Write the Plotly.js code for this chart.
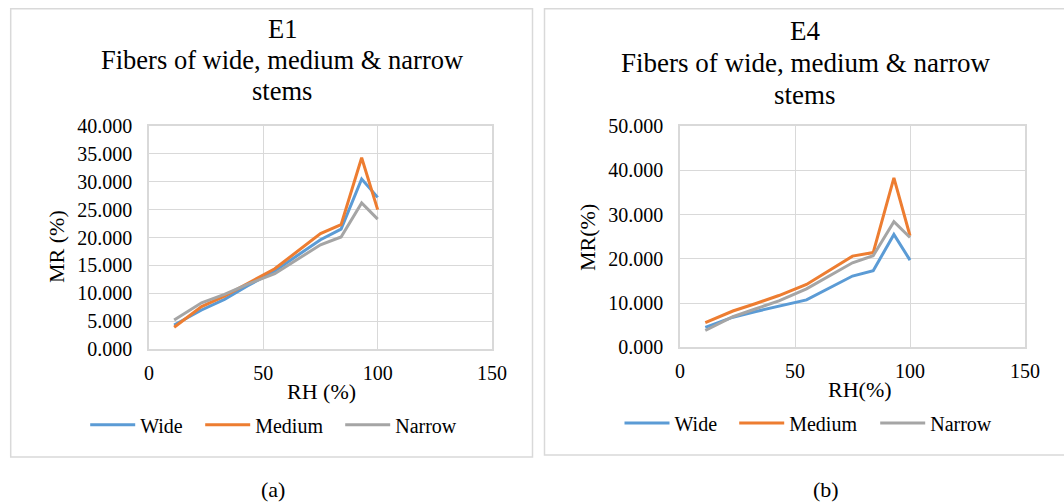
<!DOCTYPE html>
<html>
<head>
<meta charset="utf-8">
<script src="https://cdn.plot.ly/plotly-3.0.1.min.js"></script>
<style>
html, body { margin: 0; padding: 0; background: #ffffff; }
#chart { width: 1064px; height: 503px; }
</style>
</head>
<body>
<div id="chart"></div>
<script>
// ---- data ----
const rh = [11, 23, 33, 43, 55, 75, 84, 93, 100];
const seriesNames = ['Wide', 'Medium', 'Narrow'];

const e1Wide   = [4.3, 7.0, 8.9, 11.3, 14.0, 19.6, 21.5, 30.5, 27.2];
const e1Medium = [3.9, 7.6, 9.5, 11.7, 14.4, 20.7, 22.3, 34.3, 25.0];
const e1Narrow = [5.2, 8.3, 9.8, 11.6, 13.5, 18.7, 20.1, 26.2, 23.3];

const e4Wide   = [4.5, 6.8, 8.1, 9.3, 10.7, 16.1, 17.3, 25.5, 19.7];
const e4Medium = [5.6, 8.2, 9.9, 11.7, 14.2, 20.6, 21.4, 38.3, 25.2];
const e4Narrow = [3.8, 6.9, 8.7, 10.5, 13.2, 19.1, 20.7, 28.4, 24.8];

const xTickVals = [0, 50, 100, 150];
const e1YTickVals = [0, 5, 10, 15, 20, 25, 30, 35, 40];
const e4YTickVals = [0, 10, 20, 30, 40, 50];

const e1Title = ['E1', 'Fibers of wide, medium & narrow', 'stems'];
const e4Title = ['E4', 'Fibers of wide, medium & narrow', 'stems'];
const e1XTitle = 'RH (%)', e1YTitle = 'MR (%)';
const e4XTitle = 'RH(%)',  e4YTitle = 'MR(%)';
const captions = ['(a)', '(b)'];

// ---- styling ----
const W = 1064, H = 503;
const colors = ['#5B9BD5', '#ED7D31', '#A5A5A5'];
const FONT = 'Liberation Serif';
const gridColor = '#d9d9d9';
const px = x => x / W;
const py = y => (H - y) / H;
const baseFont = { family: FONT, size: 20, color: '#000000' };

// legend entry placement (pixel start of each legend line sample)
const leftLegendX = [91.7, 206.7, 346.7];
const rightLegendX = [626, 740.7, 881.7];

function mkTrace(y, i, xa, ya, leg) {
  return {
    x: rh, y: y, name: seriesNames[i], type: 'scatter', mode: 'lines',
    line: { color: colors[i], width: 3 },
    xaxis: xa, yaxis: ya, legend: leg, hoverinfo: 'x+y+name'
  };
}

const data = [
  mkTrace(e1Wide, 0, 'x', 'y', 'legend'),
  mkTrace(e1Medium, 1, 'x', 'y', 'legend2'),
  mkTrace(e1Narrow, 2, 'x', 'y', 'legend3'),
  mkTrace(e4Wide, 0, 'x2', 'y2', 'legend4'),
  mkTrace(e4Medium, 1, 'x2', 'y2', 'legend5'),
  mkTrace(e4Narrow, 2, 'x2', 'y2', 'legend6')
];

function xAxis(domain, anchor) {
  return {
    domain: domain, anchor: anchor, range: [0, 150],
    tickmode: 'array', tickvals: xTickVals, ticks: '', ticklabelstandoff: 5,
    showgrid: true, gridcolor: gridColor, gridwidth: 1,
    zeroline: false, showline: true, linecolor: gridColor, linewidth: 1.5, mirror: true,
    tickfont: Object.assign({}, baseFont), automargin: false, fixedrange: true
  };
}
function yAxis(domain, anchor, range, vals) {
  return {
    domain: domain, anchor: anchor, range: range,
    tickmode: 'array', tickvals: vals, tickformat: '.3f', ticks: '', ticklabelstandoff: 11,
    showgrid: true, gridcolor: gridColor, gridwidth: 1,
    zeroline: false, showline: true, linecolor: gridColor, linewidth: 1.5, mirror: true,
    tickfont: Object.assign({}, baseFont), automargin: false, fixedrange: true
  };
}

function txt(text, x, y, size, extra) {
  return Object.assign({
    text: text, x: px(x), y: py(y), xref: 'paper', yref: 'paper',
    xanchor: 'center', yanchor: 'middle', showarrow: false,
    font: { family: FONT, size: size, color: '#000000' }
  }, extra || {});
}

const annotations = [
  txt(e1Title[0], 282, 29, 26.5), txt(e1Title[1], 282, 60, 26.5), txt(e1Title[2], 282, 91, 26.5),
  txt(e4Title[0], 805, 31, 27), txt(e4Title[1], 805, 63, 27), txt(e4Title[2], 805, 95, 27),
  txt(e1XTitle, 321, 391, 22), txt(e4XTitle, 860, 389, 22),
  txt(e1YTitle, 56, 247, 22, { textangle: -90 }), txt(e4YTitle, 587, 238, 22, { textangle: -90 }),
  txt(captions[0], 273, 489, 22), txt(captions[1], 826, 489, 22)
];

const shapes = [
  { type: 'rect', xref: 'paper', yref: 'paper', x0: px(10.7), x1: px(532.5), y0: py(457), y1: py(8.7),
    line: { color: gridColor, width: 1.5 }, fillcolor: 'rgba(0,0,0,0)', layer: 'below' },
  { type: 'rect', xref: 'paper', yref: 'paper', x0: px(544.5), x1: px(1068), y0: py(455), y1: py(8.7),
    line: { color: gridColor, width: 1.5 }, fillcolor: 'rgba(0,0,0,0)', layer: 'below' }
];

function legend(lineStart, yMid) {
  return {
    orientation: 'h', x: px(lineStart - 6.5), y: py(yMid), xanchor: 'left', yanchor: 'middle',
    xref: 'paper', yref: 'paper',
    font: Object.assign({}, baseFont), bgcolor: 'rgba(0,0,0,0)',
    borderwidth: 0, itemwidth: 45,
    itemclick: false, itemdoubleclick: false
  };
}

const layout = {
  width: W, height: H,
  font: Object.assign({}, baseFont),
  margin: { l: 0, r: 0, t: 0, b: 0, pad: 0 },
  paper_bgcolor: '#ffffff', plot_bgcolor: '#ffffff',
  showlegend: true,
  xaxis: xAxis([px(149), px(492)], 'y'),
  yaxis: yAxis([py(349), py(126)], 'x', [0, 40], e1YTickVals),
  xaxis2: xAxis([px(680), px(1025)], 'y2'),
  yaxis2: yAxis([py(347.3), py(126)], 'x2', [0, 50], e4YTickVals),
  legend: legend(leftLegendX[0], 424.7),
  legend2: legend(leftLegendX[1], 424.7),
  legend3: legend(leftLegendX[2], 424.7),
  legend4: legend(rightLegendX[0], 423),
  legend5: legend(rightLegendX[1], 423),
  legend6: legend(rightLegendX[2], 423),
  annotations: annotations,
  shapes: shapes,
  hovermode: 'closest'
};

Plotly.newPlot('chart', data, layout, { displayModeBar: false, responsive: false });
</script>
</body>
</html>
